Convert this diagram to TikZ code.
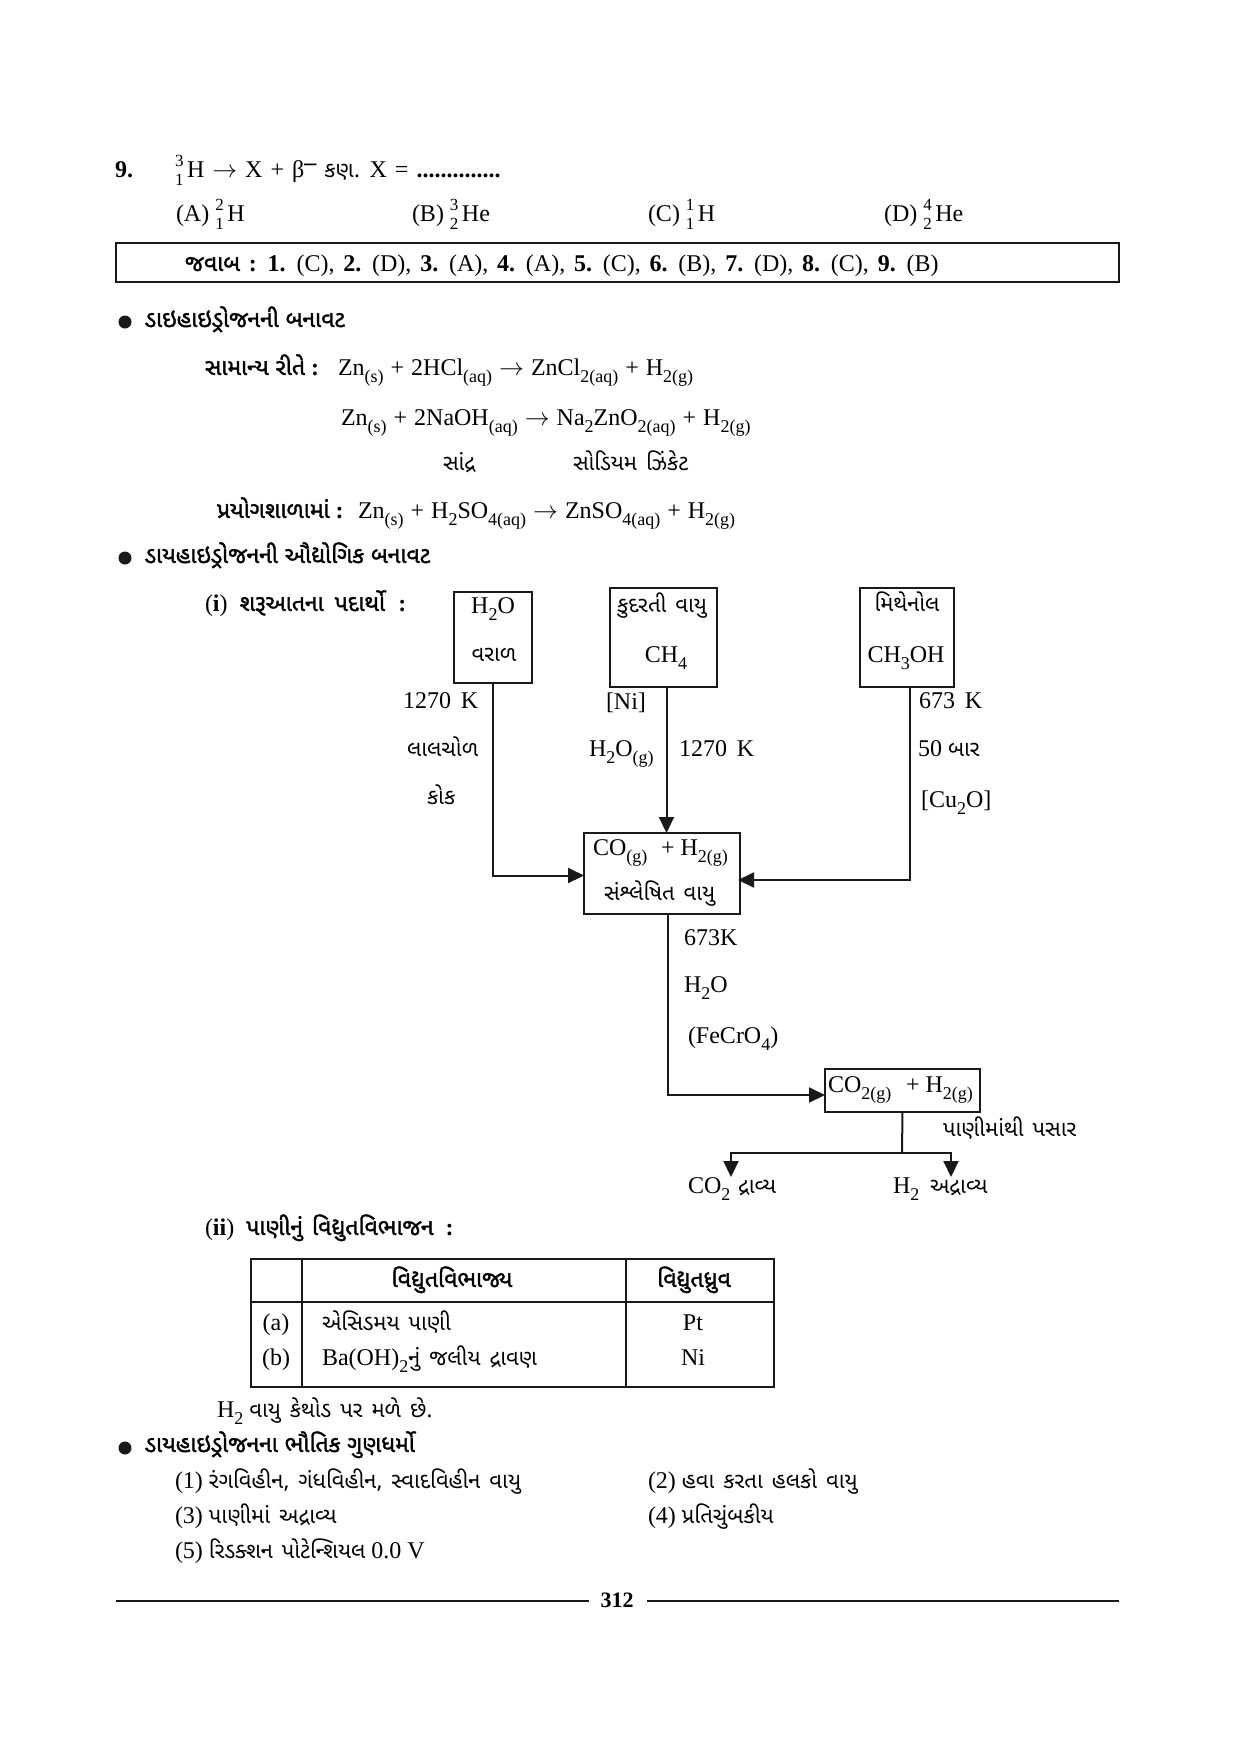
\documentclass[tikz,border=0pt]{standalone}
\usepackage{fontspec}
\usetikzlibrary{arrows.meta,positioning,calc}
\setmainfont{Liberation Serif}
\newfontfamily\gujfont[Script=Gujarati]{Noto Sans Gujarati UI}
\newfontfamily\gujbold[Script=Gujarati,FakeBold=1.6]{Noto Sans Gujarati UI}
\newcommand{\gj}[1]{{\fontsize{22}{26}\selectfont\gujfont\spaceskip=9pt #1}}
\newcommand{\gb}[1]{{\fontsize{23}{26}\selectfont\gujbold #1}}
\newcommand{\dn}[1]{\raisebox{-7pt}{\fontsize{18}{20}\selectfont #1}}
\newcommand{\isot}[2]{\makebox[12pt][r]{\rlap{\raisebox{11pt}{\fontsize{17}{19}\selectfont #1}}\rlap{\raisebox{-8pt}{\fontsize{17}{19}\selectfont #2}}\hspace{12pt}}}
\newcommand{\yields}{$\rightarrow$}
\tikzset{
 txt/.style={inner sep=0pt,outer sep=0pt,font=\fontsize{24}{28}\selectfont,anchor=base west},
 ctxt/.style={txt,anchor=base},
 stagebox/.style={draw=black!90,line width=2.2pt,inner sep=0pt,outer sep=0pt},
 flow/.style={draw=black!90,line width=2pt,-{Triangle[length=16pt,width=15pt]}},
 plainflow/.style={draw=black!90,line width=2pt},
 rulethick/.style={draw=black!90,line width=2.6pt},
 bulletdot/.style={circle,fill=black!90,inner sep=0pt,minimum size=13pt},
}
\begin{document}
\begin{tikzpicture}[x=1pt,y=-1pt]
\useasboundingbox (0,0) rectangle (1241,1754);
\fill[white] (0,0) rectangle (1241,1754);

% question 9
\node[txt,font=\fontsize{24}{28}\selectfont\bfseries] (q9) at (115,177) {9.};
\node[txt] (q9a) at (175,177) {\spaceskip=8pt \isot{3}{1}H \yields{} X + β\raisebox{7pt}{\textbf{–}} \gj{કણ.} X = \textbf{..............}};
\node[txt] (oa) at (176,221) {(A) \isot{2}{1}H};
\node[txt] (ob) at (412,221) {(B) \isot{3}{2}He};
\node[txt] (oc) at (648,221) {(C) \isot{1}{1}H};
\node[txt] (od) at (884,221) {(D) \isot{4}{2}He};

% answers
\node[stagebox,line width=2.6pt,minimum width=1003pt,minimum height=39pt,anchor=north west] (ansbox) at (116,243) {};
\node[txt] (ans) at (185,271) {\spaceskip=8.8pt \gb{જવાબ} \textbf{:} \textbf{1.} (C), \textbf{2.} (D), \textbf{3.} (A), \textbf{4.} (A), \textbf{5.} (C), \textbf{6.} (B), \textbf{7.} (D), \textbf{8.} (C), \textbf{9.} (B)};

% heading 1
\node[bulletdot] (b1) at (125,322) {};
\node[txt] (h1) at (145,327) {\gb{ડાઇહાઇડ્રોજનની બનાવટ}};
\node[txt] (e1l) at (205,375) {\gb{સામાન્ય રીતે} \textbf{:}};
\node[txt] (e1) at (338,375) {\spaceskip=7pt Zn\dn{(s)} + 2HCl\dn{(aq)} \yields{} ZnCl\dn{2(aq)} + H\dn{2(g)}};
\node[txt] (e2) at (341,425) {\spaceskip=7pt Zn\dn{(s)} + 2NaOH\dn{(aq)} \yields{} Na\dn{2}ZnO\dn{2(aq)} + H\dn{2(g)}};
\node[txt] (e2a) at (443,470) {\gj{સાંદ્ર}};
\node[txt] (e2b) at (573,470) {\gj{સોડિયમ ઝિંકેટ}};
\node[txt] (e3l) at (217,518) {\gb{પ્રયોગશાળામાં} \textbf{:}};
\node[txt] (e3) at (358,518) {\spaceskip=7pt Zn\dn{(s)} + H\dn{2}SO\dn{4(aq)} \yields{} ZnSO\dn{4(aq)} + H\dn{2(g)}};

% heading 2
\node[bulletdot] (b2) at (125,558) {};
\node[txt] (h2) at (145,563) {\gb{ડાયહાઇડ્રોજનની ઔદ્યોગિક બનાવટ}};
\node[txt] (i1) at (205,611) {\spaceskip=12pt (\textbf{i}) \gb{\spaceskip=11pt શરૂઆતના પદાર્થો} \textbf{:}};

% flow boxes
\node[stagebox,minimum width=78pt,minimum height=91pt] (water) at (493,637.5) {};
\node[stagebox,minimum width=107pt,minimum height=99pt] (gas) at (663.5,637.5) {};
\node[stagebox,minimum width=94pt,minimum height=99pt] (meth) at (907,637.5) {};
\node[stagebox,minimum width=156pt,minimum height=81pt] (syn) at (662,873.5) {};
\node[stagebox,minimum width=155pt,minimum height=43pt] (shift) at (902.5,1090.5) {};

\node[ctxt] (t1) at (493,613) {H\dn{2}O};
\node[ctxt] (t2) at (494,661) {\gj{વરાળ}};
\node[ctxt] (t3) at (662,612) {\gj{કુદરતી વાયુ}};
\node[ctxt] (t4) at (666,662) {CH\dn{4}};
\node[ctxt] (t5) at (907,611) {\gj{મિથેનોલ}};
\node[ctxt] (t6) at (906,662) {CH\dn{3}OH};

\node[txt] (l1) at (403,708) {1270\, K};
\node[txt] (l2) at (407,756) {\gj{લાલચોળ}};
\node[txt] (l3) at (427,804) {\gj{કોક}};
\node[txt] (l4) at (606,709) {[Ni]};
\node[txt] (l5) at (589,756) {H\dn{2}O\dn{(g)}};
\node[txt] (l6) at (679,756) {1270\, K};
\node[txt] (l7) at (919,708) {673\, K};
\node[txt] (l8) at (918,756) {50 \gj{બાર}};
\node[txt] (l9) at (921,807) {[Cu\dn{2}O]};

\node[txt] (s1) at (593,855) {CO\dn{(g)}};
\node[txt] (s2) at (661,855) {+ H\dn{2(g)}};
\node[txt] (s3) at (604,900) {\gj{સંશ્લેષિત વાયુ}};

\node[txt] (c1) at (684,945) {673K};
\node[txt] (c2) at (684,992) {H\dn{2}O};
\node[txt] (c3) at (688,1043) {(FeCrO\dn{4})};

\node[txt] (d1) at (828,1092) {CO\dn{2(g)}};
\node[txt] (d2) at (906,1092) {+ H\dn{2(g)}};
\node[txt] (d3) at (943,1136) {\gj{પાણીમાંથી પસાર}};

\node[txt] (co2) at (688,1193) {CO\dn{2}};
\node[txt] (co2b) at (738,1193) {\gj{દ્રાવ્ય}};
\node[txt] (hy) at (893,1193) {H\dn{2}};
\node[txt] (hyb) at (930,1193) {\gj{અદ્રાવ્ય}};

% connectors
\coordinate (waterIn) at (584,875.5);
\coordinate (gasOut) at (666.5,687);
\coordinate (synIn) at (666.5,833);
\coordinate (methOut) at (910,687);
\coordinate (methIn) at (738,880);
\coordinate (synOut) at (668,914);
\coordinate (shiftIn) at (825,1095);
\coordinate (split) at (902,1153);
\coordinate (tipA) at (731,1177);
\coordinate (tipB) at (951,1177);
\draw[flow] (water.south) |- (waterIn);
\draw[flow] (gasOut) -- (synIn);
\draw[flow] (methOut) |- (methIn);
\draw[flow] (synOut) |- (shiftIn);
\draw[plainflow] (shift.south) -- (split);
\draw[flow] (split) -| (tipA);
\draw[flow] (split) -| (tipB);

% (ii)
\node[txt] (ii) at (205,1235) {\spaceskip=12pt (\textbf{ii}) \gb{\spaceskip=9pt પાણીનું વિદ્યુતવિભાજન} \textbf{:}};

% table
\node[stagebox,minimum width=523pt,minimum height=128pt,anchor=north west] (tbl) at (251,1259) {};
\coordinate (tA) at (302,1259);
\coordinate (tAb) at (302,1387);
\coordinate (tB) at (626,1259);
\coordinate (tBb) at (626,1387);
\coordinate (tL) at (251,1302);
\coordinate (tR) at (774,1302);
\draw[plainflow,line width=2pt] (tA) -- (tAb);
\draw[plainflow,line width=2pt] (tB) -- (tBb);
\draw[rulethick,line width=2.4pt] (tL) -- (tR);
\node[ctxt] (th1) at (452,1287) {\gb{વિદ્યુતવિભાજ્ય}};
\node[ctxt] (th2) at (694,1287) {\gb{વિદ્યુતધ્રુવ}};
\node[ctxt] (ta) at (276,1330) {(a)};
\node[txt] (tb) at (322,1330) {\gj{એસિડમય પાણી}};
\node[ctxt] (tc) at (693,1330) {Pt};
\node[ctxt] (td) at (276,1365) {(b)};
\node[txt] (te) at (322,1365) {Ba(OH)\dn{2}\gj{નું જલીય દ્રાવણ}};
\node[ctxt] (tf) at (693,1365) {Ni};

\node[txt] (n1) at (217,1417) {H\dn{2} \gj{વાયુ કેથોડ પર મળે છે.}};

% heading 3
\node[bulletdot] (b3) at (125,1448) {};
\node[txt] (h3) at (145,1452) {\gb{ડાયહાઇડ્રોજનના ભૌતિક ગુણધર્મો}};
\node[txt] (p1) at (175,1488) {(1) \gj{રંગવિહીન, ગંધવિહીન, સ્વાદવિહીન વાયુ}};
\node[txt] (p2) at (648,1488) {(2) \gj{હવા કરતા હલકો વાયુ}};
\node[txt] (p3) at (175,1523) {(3) \gj{પાણીમાં અદ્રાવ્ય}};
\node[txt] (p4) at (648,1523) {(4) \gj{પ્રતિચુંબકીય}};
\node[txt] (p5) at (175,1558) {(5) \gj{રિડક્શન પોટેન્શિયલ} 0.0 V};

% footer
\node[ctxt,font=\fontsize{22}{26}\selectfont\bfseries] (page) at (617,1607) {312};
\coordinate (r1a) at (116,1601);
\coordinate (r1b) at (589,1601);
\coordinate (r2a) at (647,1601);
\coordinate (r2b) at (1119,1601);
\draw[rulethick] (r1a) -- (r1b);
\draw[rulethick] (r2a) -- (r2b);
\end{tikzpicture}
\end{document}
